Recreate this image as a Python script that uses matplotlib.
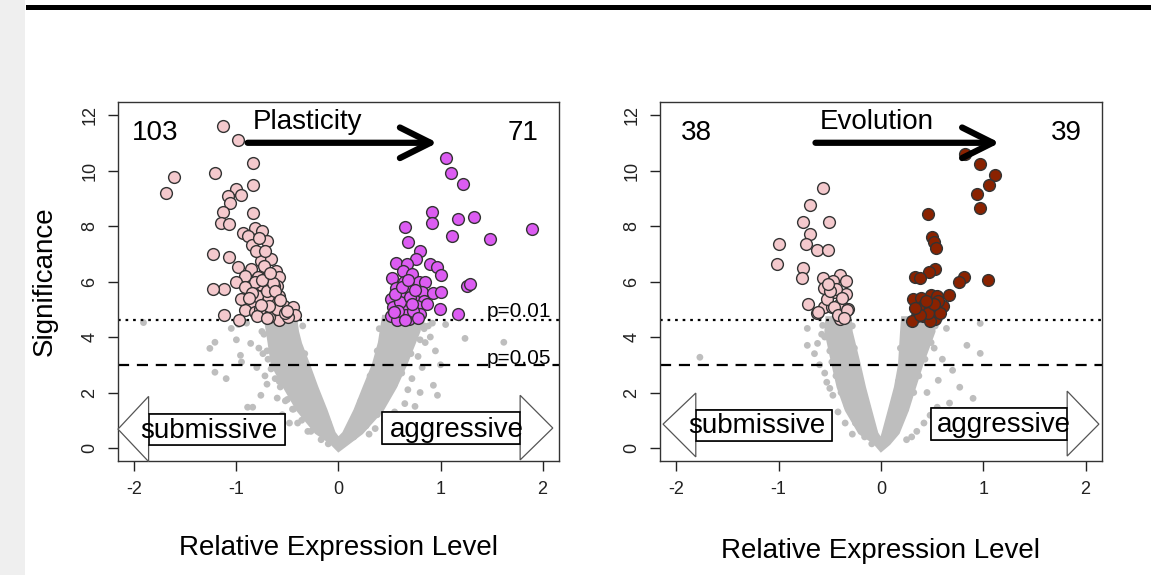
import matplotlib
matplotlib.use('Agg')
import matplotlib.pyplot as plt
from matplotlib.patches import Polygon, Rectangle

plt.rcParams['font.family'] = ['Liberation Sans', 'DejaVu Sans']

# ---- data ----
x_ticks = [-2, -1, 0, 1, 2]
y_ticks = [0, 2, 4, 6, 8, 10, 12]
p01 = 4.6
p05 = 3.0

# Plasticity: down-regulated (pink)
plast_down_x = [-1.13, -0.985, -1.61, -1.69, -1.21, -0.84, -0.84, -1.0, -0.95, -1.08, -1.06, -1.13, -0.84,
                -1.15, -1.07, -0.94, -0.82, -0.75, -0.89, -0.70, -0.85, -1.23, -1.07, -0.76, -0.66, -0.98,
                -0.86, -0.72, -0.61, -0.92, -0.79, -0.66, -0.58, -1.0, -1.12, -1.23, -0.86, -0.74, -0.60,
                -0.89, -0.77, -0.66, -0.58, -0.86, -0.72, -0.63, -0.53, -0.45, -0.92, -0.82, -0.72, -0.63,
                -0.55, -0.43, -1.12, -0.97, -0.58, -0.49, -0.68, -0.77, -0.82, -0.69, -0.63, -0.81, -0.72,
                -0.78, -0.92, -0.95, -0.69, -0.80, -0.70, -0.64, -0.75, -0.85, -0.60, -0.52, -0.68, -0.88,
                -0.73, -0.62, -0.80, -0.67, -0.57, -0.50, -0.76, -0.70]
plast_down_y = [11.62, 11.09, 9.77, 9.20, 9.92, 10.26, 9.47, 9.32, 9.11, 9.09, 8.82, 8.50, 8.48,
                8.12, 8.06, 7.74, 7.94, 7.82, 7.65, 7.47, 7.31, 6.99, 6.87, 6.75, 6.81, 6.51,
                6.45, 6.39, 6.39, 6.21, 6.15, 6.09, 6.15, 5.97, 5.73, 5.73, 5.85, 5.79, 5.85,
                5.55, 5.49, 5.55, 5.49, 5.25, 5.31, 5.19, 5.13, 5.07, 4.96, 4.90, 4.90, 4.84,
                4.78, 4.78, 4.78, 4.60, 4.60, 4.72, 4.72, 5.02, 5.97, 6.21, 5.85, 7.11, 7.11,
                7.57, 5.79, 5.37, 5.49, 5.49, 5.65, 5.95, 6.05, 5.60, 5.00, 4.85, 5.10, 5.40,
                6.55, 5.65, 4.75, 6.30, 5.35, 4.95, 5.15, 4.70]

# Plasticity: up-regulated (purple)
plast_up_x = [1.05, 1.10, 1.22, 0.92, 0.92, 1.17, 1.33, 0.65, 1.11, 1.48, 1.90, 0.68, 0.80, 0.76,
              0.56, 0.67, 0.90, 0.97, 0.63, 0.72, 1.00, 0.52, 0.64, 0.79, 0.85, 1.26, 1.29, 0.56,
              0.71, 0.82, 0.93, 1.00, 0.51, 0.61, 0.74, 0.84, 0.53, 0.64, 0.77, 0.99, 1.17, 0.51,
              0.59, 0.69, 0.80, 0.57, 0.66, 0.73, 0.60, 0.70, 0.55, 0.62, 0.75, 0.68, 0.58, 0.87,
              0.78, 0.65, 0.54, 0.72]
plast_up_y = [10.46, 9.92, 9.53, 8.52, 8.10, 8.25, 8.34, 7.95, 7.65, 7.55, 7.88, 7.44, 7.11, 6.81,
              6.66, 6.64, 6.64, 6.54, 6.37, 6.27, 6.22, 6.14, 5.98, 5.98, 5.98, 5.83, 5.92, 5.75,
              5.67, 5.61, 5.58, 5.61, 5.37, 5.43, 5.34, 5.31, 5.07, 5.13, 5.13, 5.01, 4.84, 4.77,
              4.71, 4.65, 4.84, 4.60, 4.80, 4.95, 5.25, 5.45, 5.55, 5.80, 5.70, 6.05, 4.95, 5.20,
              4.70, 4.62, 4.90, 5.20]

# Evolution: down-regulated (pink)
evo_down_x = [-0.57, -0.69, -0.76, -0.51, -0.69, -1.00, -0.73, -0.63, -0.52, -1.02, -0.76, -0.77,
              -0.57, -0.40, -0.47, -0.34, -0.56, -0.48, -0.45, -0.34, -0.71, -0.56, -0.48, -0.40,
              -0.32, -0.63, -0.37, -0.40, -0.44, -0.53, -0.62, -0.46, -0.42, -0.33, -0.50, -0.38,
              -0.36, -0.52]
evo_down_y = [9.37, 8.77, 8.15, 8.13, 7.70, 7.34, 7.34, 7.14, 7.12, 6.62, 6.47, 6.11,
              6.11, 6.24, 6.03, 6.02, 5.77, 5.67, 5.61, 5.55, 5.19, 5.07, 5.07, 5.19,
              5.01, 4.86, 4.77, 4.65, 5.73, 5.37, 4.90, 5.07, 4.81, 4.98, 5.67, 5.40,
              4.70, 5.90]

# Evolution: up-regulated (dark red)
evo_up_x = [0.82, 0.97, 1.11, 1.06, 0.94, 0.97, 0.46, 0.50, 0.52, 0.54, 0.53, 0.47, 0.33, 0.38,
            0.81, 0.76, 1.05, 0.66, 0.31, 0.39, 0.49, 0.41, 0.51, 0.61, 0.35, 0.30, 0.41, 0.53,
            0.48, 0.58, 0.38, 0.55, 0.56, 0.48, 0.46, 0.38, 0.52, 0.44, 0.33]
evo_up_y = [10.58, 10.25, 9.83, 9.47, 9.17, 8.64, 8.45, 7.59, 7.41, 7.20, 6.45, 6.33, 6.17, 6.11,
            6.18, 5.99, 6.05, 5.50, 5.36, 5.42, 5.50, 5.12, 5.26, 5.12, 4.76, 4.58, 4.76, 4.64,
            4.58, 4.88, 5.00, 5.48, 5.31, 5.07, 4.86, 4.78, 5.19, 5.30, 5.05]

# dense part of the non-significant genes (outline of the grey cloud)
plast_cloud_x = [0.0, -0.08, -0.22, -0.40, -0.53, -0.65, -0.68, -0.71, -0.64, -0.42, -0.40, -0.37,
                 -0.29, -0.21, -0.12, -0.04, 0.0, 0.05, 0.16, 0.25, 0.34, 0.40, 0.44, 0.82, 0.79,
                 0.66, 0.56, 0.43, 0.23, 0.09]
plast_cloud_y = [-0.10, 0.20, 0.55, 1.36, 2.19, 3.00, 3.77, 4.49, 4.75, 4.75, 4.20, 3.77,
                 3.00, 2.19, 1.36, 0.54, 0.35, 0.54, 1.36, 2.19, 3.00, 3.80, 4.75, 4.75, 4.20,
                 3.00, 2.19, 1.36, 0.54, 0.15]
evo_cloud_x = [0.0, -0.07, -0.21, -0.34, -0.42, -0.47, -0.54, -0.53, -0.30, -0.29, -0.21, -0.16,
               -0.10, -0.04, 0.0, 0.02, 0.08, 0.14, 0.18, 0.20, 0.21, 0.51, 0.52, 0.40, 0.33,
               0.26, 0.17, 0.08]
evo_cloud_y = [-0.10, 0.20, 0.54, 1.36, 2.19, 3.00, 4.20, 4.70, 4.70, 4.20, 3.00, 2.19,
               1.36, 0.54, 0.30, 0.54, 1.36, 2.19, 3.00, 4.20, 4.70, 4.70, 4.20, 3.00, 2.19,
               1.36, 0.54, 0.15]

# scattered non-significant genes
plast_grey_x = [-1.91, -1.21, -1.26, -1.05, -0.98, -0.90, -0.86, -0.96, -1.21, -1.10, -0.89, -0.84,
                -0.76, -0.80, -0.78, -0.75, -1.00, -0.95, -0.70, -0.72, -0.60, -0.55, -0.48, -0.45,
                -0.68, -0.74, -0.58, -0.52, -0.40, -0.30,
                -0.73, -0.70, -0.69, -0.66, -0.62, -0.57, -0.50, -0.44, -0.36, -0.27, -0.17, -0.10,
                -0.35, -0.33, -0.27, -0.19, -0.10, -0.05, -0.45, -0.47,
                1.24, 1.62, 0.97, 0.93, 1.00, 0.95, 0.90, 0.88, 0.82, 0.80, 0.78, 0.75, 0.70, 0.65,
                0.60, 0.50, 0.85, 1.05, 0.92, 0.72, 0.68, 0.55, 0.45, 0.62, 0.84, 0.30, 0.36,
                0.84, 0.80, 0.71, 0.62, 0.55, 0.46, 0.38, 0.27, 0.15, 0.40, 0.38, 0.31, 0.22,
                0.13, 0.06, 0.44]
plast_grey_y = [4.52, 3.81, 3.59, 4.31, 4.45, 4.50, 3.77, 3.34, 2.73, 2.50, 1.47, 1.47,
                1.90, 2.90, 3.60, 4.20, 3.90, 3.10, 2.30, 2.60, 1.80, 1.20, 0.90, 1.40,
                4.40, 3.40, 2.40, 1.70, 0.90, 0.60,
                4.10, 3.50, 3.20, 2.85, 2.50, 2.20, 1.75, 1.40, 1.00, 0.60, 0.30, 0.15,
                4.40, 3.40, 2.50, 1.60, 0.90, 0.45, 4.30, 4.00,
                3.95, 3.81, 1.90, 2.26, 3.00, 3.50, 4.00, 4.40, 2.90, 2.00, 3.30, 1.50, 1.20, 1.60,
                0.90, 0.70, 3.80, 4.45, 4.50, 2.50, 2.10, 1.30, 1.00, 3.70, 4.30, 0.50, 0.70,
                4.40, 3.90, 3.40, 2.70, 2.30, 1.80, 1.20, 0.80, 0.40, 4.30, 3.50, 2.60, 1.70,
                0.90, 0.40, 4.00]
evo_grey_x = [-1.77, -0.72, -0.62, -0.53, -0.50, -0.72, -0.57, -0.65, -0.60, -0.55, -0.47, -0.42,
              -0.35, -0.28, -0.58,
              -0.55, -0.50, -0.48, -0.44, -0.39, -0.33, -0.25, -0.16, -0.09, -0.28, -0.26,
              -0.20, -0.14, -0.07,
              0.97, 0.97, 0.84, 0.64, 0.56, 0.77, 0.90, 0.67, 0.55, 0.48, 0.42, 0.60, 0.35, 0.45,
              0.70, 0.30, 0.25, 0.52,
              0.53, 0.49, 0.43, 0.37, 0.32, 0.24, 0.15, 0.19, 0.17, 0.11, 0.05]
evo_grey_y = [3.27, 3.70, 3.77, 2.37, 2.15, 4.31, 4.42, 3.40, 3.00, 2.70, 1.90, 1.30,
              0.90, 0.50, 4.10,
              4.00, 3.50, 3.10, 2.60, 2.00, 1.50, 0.90, 0.40, 0.15, 4.40, 3.60,
              2.40, 1.50, 0.60,
              4.49, 3.41, 3.70, 4.31, 2.44, 2.19, 1.79, 1.62, 1.47, 1.18, 0.90, 3.20, 0.60, 2.00,
              2.80, 0.40, 0.30, 3.60,
              4.40, 3.80, 3.20, 2.60, 2.00, 1.40, 0.70, 3.60, 2.40, 1.20, 0.40]

GREY = '#bebebe'
PINK = '#f4c9cd'
PURPLE = '#dc5cf2'
DARKRED = '#8a2200'

fig = plt.figure(figsize=(11.51, 5.75), dpi=100)
fig.patches.append(Rectangle((0, 0), 25 / 1151, 1, transform=fig.transFigure,
                             facecolor='#efefef', edgecolor='none'))
fig.patches.append(Rectangle((26 / 1151, 1 - 9.5 / 575), 1, 5 / 575, transform=fig.transFigure,
                             facecolor='black', edgecolor='none'))

ax1 = fig.add_axes([0.1025, 0.1977, 0.3831, 0.6254])
ax2 = fig.add_axes([0.5734, 0.1977, 0.3840, 0.6254])


def hollow_arrow(ax, tail, base, tip, body_lo, body_hi, head_lo, head_hi, yc, label, tx, ty):
    pts = [(tail, body_hi), (base, body_hi), (base, head_hi), (tip, yc),
           (base, head_lo), (base, body_lo), (tail, body_lo)]
    ax.add_patch(Polygon(pts, closed=True, facecolor='white', edgecolor='#555555',
                         linewidth=0.9, zorder=4, clip_on=False))
    ax.add_patch(Rectangle((min(tail, base), body_lo), abs(base - tail), body_hi - body_lo,
                           facecolor='white', edgecolor='black', linewidth=1.2, zorder=5))
    ax.text(tx, ty, label, ha='center', va='center', fontsize=20, zorder=6)


def volcano(ax, cloud_x, cloud_y, gx, gy, dx, dy, ux, uy, up_col, n_down, n_up, title,
            t_x, arr_x0, arr_x1, show_p):
    ax.add_patch(Polygon(list(zip(cloud_x, cloud_y)), closed=True, facecolor=GREY,
                         edgecolor=GREY, linewidth=2, zorder=1))
    ax.scatter(gx, gy, s=24, color=GREY, edgecolors='none', zorder=1)
    ax.axhline(p01, color='black', linestyle=(0, (1.2, 2.2)), linewidth=1.6, zorder=2)
    ax.axhline(p05, color='black', linestyle=(0, (5, 3.5)), linewidth=1.6, zorder=2)
    ax.scatter(dx, dy, s=72, color=PINK, edgecolors='#333333', linewidths=1.0, zorder=3)
    ax.scatter(ux, uy, s=72, color=up_col, edgecolors='#333333', linewidths=1.0, zorder=3)

    ax.text(-1.80, 11.36, str(n_down), ha='center', va='center', fontsize=20)
    ax.text(1.81, 11.36, str(n_up), ha='center', va='center', fontsize=20)
    ax.text(t_x, 11.74, title, ha='center', va='center', fontsize=20)
    ax.annotate('', xy=(arr_x1, 11.0), xytext=(arr_x0, 11.0),
                arrowprops=dict(arrowstyle='->,head_length=1.1,head_width=0.55',
                                mutation_scale=20, linewidth=4.5, color='black',
                                shrinkA=0, shrinkB=0))
    if show_p:
        ax.text(2.08, 4.92, 'p=0.01', ha='right', va='center', fontsize=15)
        ax.text(2.08, 3.23, 'p=0.05', ha='right', va='center', fontsize=15)

    ax.set_xlim(-2.16, 2.16)
    ax.set_ylim(-0.48, 12.48)
    ax.set_xticks(x_ticks)
    ax.set_xticklabels([str(v) for v in x_ticks])
    ax.set_yticks(y_ticks)
    ax.set_yticklabels([str(v) for v in y_ticks], rotation=90, va='center')
    ax.tick_params(labelsize=13, length=7, width=1, pad=7, colors='#222222')
    for sp in ax.spines.values():
        sp.set_linewidth(1.0)
        sp.set_color('#333333')
    ax.text(0.5, -0.24, 'Relative Expression Level', transform=ax.transAxes,
            ha='center', va='center', fontsize=20)


volcano(ax1, plast_cloud_x, plast_cloud_y, plast_grey_x, plast_grey_y,
        plast_down_x, plast_down_y, plast_up_x, plast_up_y, PURPLE, 103, 71,
        'Plasticity', -0.30, -0.89, 0.97, True)
hollow_arrow(ax1, -0.52, -1.86, -2.16, 0.11, 1.23, -0.49, 1.86, 0.68, 'submissive', -1.27, 0.62)
hollow_arrow(ax1, 0.43, 1.78, 2.10, 0.13, 1.29, -0.43, 1.90, 0.72, 'aggressive', 1.16, 0.66)
ax1.text(-0.166, 0.5, 'Significance', transform=ax1.transAxes, rotation=90,
         ha='center', va='center', fontsize=20)

volcano(ax2, evo_cloud_x, evo_cloud_y, evo_grey_x, evo_grey_y,
        evo_down_x, evo_down_y, evo_up_x, evo_up_y, DARKRED, 38, 39,
        'Evolution', -0.04, -0.64, 1.16, False)
ax2.texts[-1].set_position((0.5, -0.25))
hollow_arrow(ax2, -0.48, -1.81, -2.13, 0.25, 1.38, -0.32, 1.98, 0.86, 'submissive', -1.21, 0.78)
hollow_arrow(ax2, 0.49, 1.82, 2.13, 0.28, 1.45, -0.29, 2.05, 0.86, 'aggressive', 1.20, 0.82)

fig.savefig('out.png', dpi=100)
